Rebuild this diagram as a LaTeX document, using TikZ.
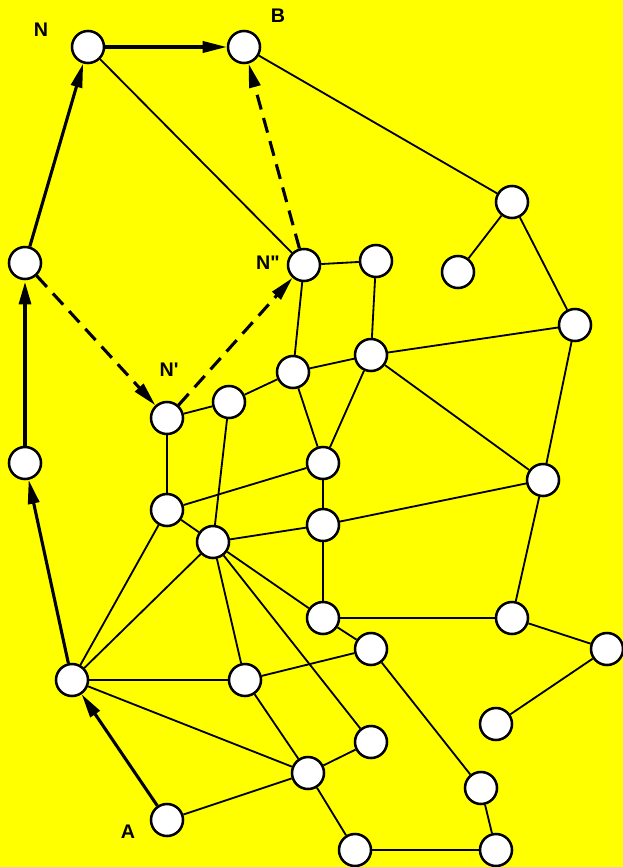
\documentclass[tikz,border=0pt]{standalone}
\usepackage{fontspec}
\usepackage{xcolor}
\usepackage{tikz}
\usetikzlibrary{arrows.meta}
\newfontfamily\lblfont{Liberation Sans}
\definecolor{bgyellow}{RGB}{255, 255, 0}

\begin{document}
\begin{tikzpicture}[
    x=0.025cm, y=-0.025cm,
    vtx/.style={circle, draw, fill=white, line width=1.8pt, minimum size=0.8cm, inner sep=0pt},
    lbl/.style={font=\lblfont\bfseries\fontsize{14}{16}\selectfont},
    link/.style={line width=1.3pt},
    move/.style={line width=2.2pt, -{Triangle[length=0.6cm, width=0.28cm]}},
    probe/.style={line width=2.2pt, dash pattern=on 0.38cm off 0.22cm, -{Triangle[length=0.6cm, width=0.28cm]}}
]
\fill[bgyellow] (0, 0) rectangle (623, 867);
\useasboundingbox (0, 0) rectangle (623, 867);

\node[vtx] (N) at (88, 47) {};
\node[vtx] (B) at (244, 47) {};
\node[vtx] (r1) at (512, 202) {};
\node[vtx] (r2) at (458, 272) {};
\node[vtx] (r3) at (575, 325) {};
\node[vtx] (L1) at (25, 263) {};
\node[vtx] (Npp) at (304, 265) {};
\node[vtx] (na) at (376, 261) {};
\node[vtx] (nb) at (371, 355) {};
\node[vtx] (nc) at (293, 372) {};
\node[vtx] (nd) at (229, 402) {};
\node[vtx] (Np) at (167, 418) {};
\node[vtx] (ne) at (323, 463) {};
\node[vtx] (nf) at (543, 480) {};
\node[vtx] (L2) at (25, 463) {};
\node[vtx] (ng) at (167, 510) {};
\node[vtx] (nh) at (213, 542) {};
\node[vtx] (ni) at (323, 525) {};
\node[vtx] (nj) at (323, 618) {};
\node[vtx] (nk) at (512, 618) {};
\node[vtx] (nl) at (607, 649) {};
\node[vtx] (nm) at (371, 649) {};
\node[vtx] (nn) at (72, 680) {};
\node[vtx] (no) at (245, 680) {};
\node[vtx] (np) at (496, 724) {};
\node[vtx] (nq) at (371, 742) {};
\node[vtx] (nr) at (308, 773) {};
\node[vtx] (ns) at (481, 788) {};
\node[vtx] (A) at (167, 820) {};
\node[vtx] (nt) at (355, 850) {};
\node[vtx] (nu) at (496, 850) {};

\node[lbl] (labN) at (41, 30) {N};
\node[lbl] (labB) at (278, 16) {B};
\node[lbl] (labNpp) at (268, 263) {N"};
\node[lbl] (labNp) at (169, 370) {N'};
\node[lbl] (labA) at (128, 832) {A};

\draw[link] (N) -- (Npp);
\draw[link] (B) -- (r1);
\draw[link] (r1) -- (r2);
\draw[link] (r1) -- (r3);
\draw[link] (Npp) -- (na);
\draw[link] (na) -- (nb);
\draw[link] (Npp) -- (nc);
\draw[link] (nc) -- (nb);
\draw[link] (nb) -- (r3);
\draw[link] (nb) -- (nf);
\draw[link] (r3) -- (nf);
\draw[link] (nc) -- (ne);
\draw[link] (nb) -- (ne);
\draw[link] (Np) -- (nd);
\draw[link] (nd) -- (nc);
\draw[link] (Np) -- (ng);
\draw[link] (ng) -- (ne);
\draw[link] (ng) -- (nh);
\draw[link] (nd) -- (nh);
\draw[link] (nh) -- (ni);
\draw[link] (ne) -- (ni);
\draw[link] (ni) -- (nj);
\draw[link] (nh) -- (nj);
\draw[link] (nh) -- (nn);
\draw[link] (nh) -- (no);
\draw[link] (nh) -- (nq);
\draw[link] (ng) -- (nn);
\draw[link] (ni) -- (nf);
\draw[link] (nf) -- (nk);
\draw[link] (nj) -- (nk);
\draw[link] (nk) -- (nl);
\draw[link] (nj) -- (nm);
\draw[link] (nm) -- (ns);
\draw[link] (nl) -- (np);
\draw[link] (no) -- (nm);
\draw[link] (nn) -- (no);
\draw[link] (nn) -- (nr);
\draw[link] (A) -- (nr);
\draw[link] (no) -- (nr);
\draw[link] (nr) -- (nq);
\draw[link] (nr) -- (nt);
\draw[link] (ns) -- (nu);
\draw[link] (nt) -- (nu);

\draw[move] (A) -- (nn);
\draw[move] (nn) -- (L2);
\draw[move, line width=3.5pt] (L2) -- (L1);
\draw[move] (L1) -- (N);
\draw[move] (N) -- (B);

\draw[probe] (L1) -- (Np);
\draw[probe] (Np) -- (Npp);
\draw[probe] (Npp) -- (B);
\end{tikzpicture}
\end{document}
